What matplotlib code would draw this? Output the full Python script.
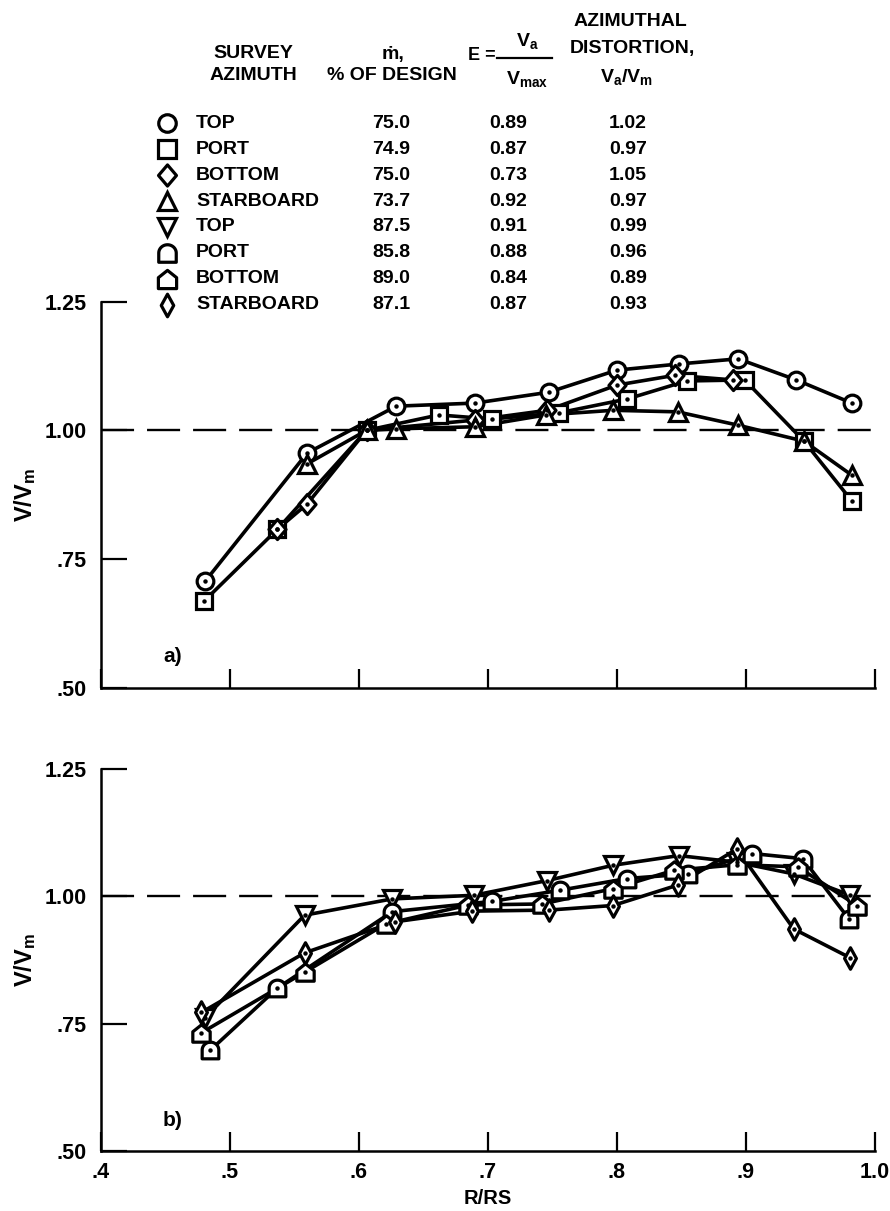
import numpy as np
import matplotlib
matplotlib.use('Agg')
import matplotlib.pyplot as plt
from matplotlib.path import Path

plt.rcParams['font.family'] = ['Liberation Sans', 'DejaVu Sans']
plt.rcParams['font.weight'] = 'bold'
plt.rcParams['axes.labelweight'] = 'bold'
plt.rcParams['mathtext.fontset'] = 'custom'
plt.rcParams['mathtext.rm'] = 'Liberation Sans:bold'
plt.rcParams['mathtext.it'] = 'Liberation Sans:bold'
plt.rcParams['mathtext.bf'] = 'Liberation Sans:bold'

# ---------------- data ----------------
azimuths = ['TOP', 'PORT', 'BOTTOM', 'STARBOARD', 'TOP', 'PORT', 'BOTTOM', 'STARBOARD']
mdot_pct = [75.0, 74.9, 75.0, 73.7, 87.5, 85.8, 89.0, 87.1]
E_vals = [0.89, 0.87, 0.73, 0.92, 0.91, 0.88, 0.84, 0.87]
distortion = [1.02, 0.97, 1.05, 0.97, 0.99, 0.96, 0.89, 0.93]

x_ticks = [0.4, 0.5, 0.6, 0.7, 0.8, 0.9, 1.0]
x_ticklabels = ['.4', '.5', '.6', '.7', '.8', '.9', '1.0']
y_ticks = [0.50, 0.75, 1.00, 1.25]
y_ticklabels = ['.50', '.75', '1.00', '1.25']

# panel a (about 75 % of design flow)
a_top_x = [0.481, 0.560, 0.629, 0.690, 0.747, 0.800, 0.848, 0.894, 0.939, 0.982]
a_top_y = [0.707, 0.956, 1.047, 1.053, 1.074, 1.117, 1.129, 1.139, 1.098, 1.053]
a_port_x = [0.480, 0.537, 0.606, 0.662, 0.703, 0.755, 0.808, 0.854, 0.899, 0.945, 0.982]
a_port_y = [0.668, 0.808, 1.000, 1.030, 1.022, 1.034, 1.061, 1.096, 1.098, 0.979, 0.863]
a_bottom_x = [0.537, 0.560, 0.606, 0.690, 0.746, 0.800, 0.845, 0.890]
a_bottom_y = [0.808, 0.857, 1.000, 1.020, 1.039, 1.088, 1.107, 1.098]
a_star_x = [0.560, 0.606, 0.629, 0.690, 0.745, 0.797, 0.847, 0.894, 0.945, 0.982]
a_star_y = [0.935, 1.000, 1.003, 1.007, 1.030, 1.039, 1.036, 1.010, 0.979, 0.913]

# panel b (about 87 % of design flow)
b_top_x = [0.481, 0.558, 0.626, 0.689, 0.746, 0.797, 0.848, 0.893, 0.937, 0.981]
b_top_y = [0.762, 0.963, 0.995, 1.002, 1.031, 1.061, 1.080, 1.067, 1.044, 1.002]
b_port_x = [0.485, 0.537, 0.626, 0.703, 0.756, 0.808, 0.855, 0.905, 0.944, 0.980]
b_port_y = [0.698, 0.820, 0.970, 0.990, 1.012, 1.035, 1.044, 1.084, 1.074, 0.955]
b_bottom_x = [0.478, 0.558, 0.621, 0.685, 0.742, 0.797, 0.844, 0.893, 0.940, 0.986]
b_bottom_y = [0.732, 0.851, 0.946, 0.983, 0.985, 1.015, 1.051, 1.062, 1.058, 0.982]
b_star_x = [0.478, 0.558, 0.628, 0.688, 0.747, 0.797, 0.847, 0.893, 0.937, 0.981]
b_star_y = [0.772, 0.889, 0.950, 0.971, 0.973, 0.982, 1.022, 1.093, 0.936, 0.879]

# ---------------- marker shapes ----------------
diamond = Path([(0, 1), (0.85, 0), (0, -1), (-0.85, 0), (0, 1)],
               [Path.MOVETO, Path.LINETO, Path.LINETO, Path.LINETO, Path.CLOSEPOLY])
th = np.linspace(0, np.pi, 25)
arch_verts = [(-1, -1), (1, -1)] + [(np.cos(t), 0.05 + np.sin(t) * 0.95) for t in th] + [(-1, -1)]
arch = Path(arch_verts, [Path.MOVETO] + [Path.LINETO] * (len(arch_verts) - 2) + [Path.CLOSEPOLY])
house = Path([(-1, -1), (1, -1), (1, 0.2), (0, 1), (-1, 0.2), (-1, -1)],
             [Path.MOVETO] + [Path.LINETO] * 4 + [Path.CLOSEPOLY])
thin_diamond = Path([(0, 1), (0.55, 0), (0, -1), (-0.55, 0), (0, 1)],
                    [Path.MOVETO, Path.LINETO, Path.LINETO, Path.LINETO, Path.CLOSEPOLY])

markers = ['o', 's', diamond, '^', 'v', arch, house, thin_diamond]
msizes = [12, 12, 14.5, 12.5, 12.5, 12, 12.5, 15.5]

W, H = 890, 1211
fig = plt.figure(figsize=(W / 100, H / 100), dpi=100)

# overlay axes in pixel coordinates for the key table
ax0 = fig.add_axes([0, 0, 1, 1])
ax0.set_xlim(0, W)
ax0.set_ylim(H, 0)
ax0.axis('off')

fs = 14
ax0.text(253, 53, 'SURVEY', ha='center', va='center', fontsize=fs)
ax0.text(253, 76, 'AZIMUTH', ha='center', va='center', fontsize=fs)
ax0.text(393, 54, '\u1e41,', ha='center', va='center', fontsize=fs)
ax0.text(392, 76, '% OF DESIGN', ha='center', va='center', fontsize=fs)
ax0.text(482, 56, 'E =', ha='center', va='center', fontsize=fs - 1)
ax0.text(527, 41, r'$\mathregular{V_a}$', ha='center', va='center', fontsize=fs)
ax0.plot([497, 552], [58, 58], color='black', lw=1.6)
ax0.text(527, 79, r'$\mathregular{V_{max}}$', ha='center', va='center', fontsize=fs)
ax0.text(630, 22, 'AZIMUTHAL', ha='center', va='center', fontsize=fs)
ax0.text(632, 48, 'DISTORTION,', ha='center', va='center', fontsize=fs)
ax0.text(627, 77, r'$\mathregular{V_a/V_m}$', ha='center', va='center', fontsize=fs)

row0, drow = 123.3, 25.9
for i in range(8):
    yy = row0 + i * drow
    ax0.plot([167], [yy], marker=markers[i], ms=msizes[i] * 1.05, mfc='white', mec='black',
             mew=2.3, ls='none')
    ax0.text(196, yy, azimuths[i], ha='left', va='center', fontsize=fs)
    ax0.text(391, yy, f'{mdot_pct[i]:.1f}', ha='center', va='center', fontsize=fs)
    ax0.text(508, yy, f'{E_vals[i]:.2f}', ha='center', va='center', fontsize=fs)
    ax0.text(628, yy, f'{distortion[i]:.2f}', ha='center', va='center', fontsize=fs)

# ---------------- panels ----------------
left, width = 100.7 / W, (875 - 100.7) / W
axA = fig.add_axes([left, 1 - 687.7 / H, width, (687.7 - 301.7) / H])
axB = fig.add_axes([left, 1 - 1151 / H, width, (1151 - 769) / H])

panelA = [(a_top_x, a_top_y, 0), (a_port_x, a_port_y, 1), (a_bottom_x, a_bottom_y, 2),
          (a_star_x, a_star_y, 3)]
panelB = [(b_top_x, b_top_y, 4), (b_port_x, b_port_y, 5), (b_bottom_x, b_bottom_y, 6),
          (b_star_x, b_star_y, 7)]

for ax, series, tag in [(axA, panelA, 'a)'), (axB, panelB, 'b)')]:
    ax.set_facecolor('none')
    ax.set_xlim(0.4, 1.0)
    ax.set_ylim(0.5, 1.25)
    ax.axhline(1.0, color='black', lw=1.7, ls=(0, (14, 5.5)), zorder=1)
    for xs, ys, k in series:
        ax.plot(xs, ys, color='black', lw=2.6, solid_joinstyle='round', zorder=2, clip_on=False)
    for xs, ys, k in series:
        ax.plot(xs, ys, ls='none', marker=markers[k], ms=msizes[k], mfc='white', mec='black',
                mew=2.3, zorder=3, clip_on=False)
        ax.plot(xs, ys, ls='none', marker='o', ms=2.2, mfc='black', mec='black', zorder=4,
                clip_on=False)
    for s in ['top', 'right']:
        ax.spines[s].set_visible(False)
    for s in ['left', 'bottom']:
        ax.spines[s].set_linewidth(1.8)
    ax.set_xticks(x_ticks)
    ax.set_yticks(y_ticks)
    ax.set_yticklabels(y_ticklabels, fontsize=15.5)
    ax.tick_params(axis='y', direction='in', length=19, width=1.6, pad=10)
    ax.tick_params(axis='x', direction='in', length=14, width=1.6, pad=8)
    ax.set_ylabel(r'$\mathregular{V/V_m}$', fontsize=17, labelpad=5)
    ax.text(0.456, 0.56, tag, fontsize=15, ha='center', va='center')

axA.set_xticklabels([''] * len(x_ticks))
axB.set_xticklabels(x_ticklabels, fontsize=15.5)
axB.set_xlabel('R/RS', fontsize=14.5, labelpad=4)

fig.savefig('out.png', dpi=100)
